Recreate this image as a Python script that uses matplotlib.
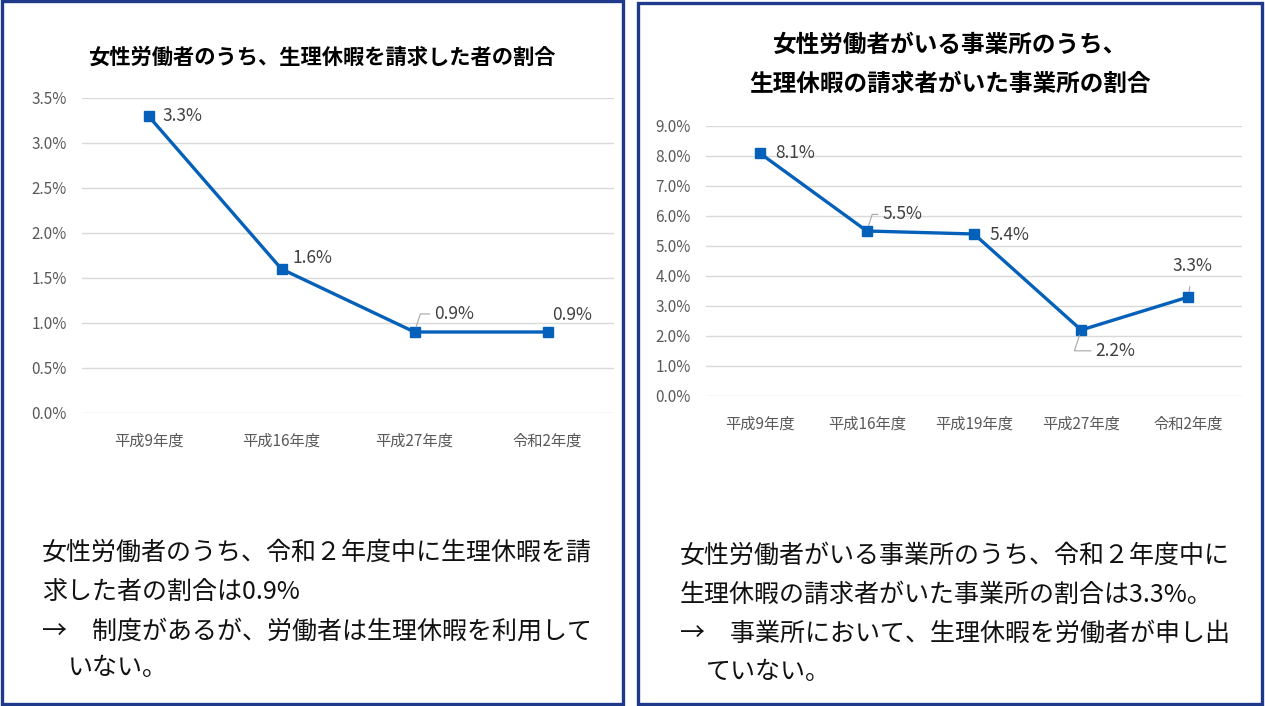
import matplotlib.pyplot as plt
from matplotlib.patches import Rectangle
from matplotlib.ticker import PercentFormatter

plt.rcParams['font.family'] = ['Noto Sans CJK JP', 'DejaVu Sans']

# data
workers_years = ['平成9年度', '平成16年度', '平成27年度', '令和2年度']
workers_rate = [3.3, 1.6, 0.9, 0.9]

office_years = ['平成9年度', '平成16年度', '平成19年度', '平成27年度', '令和2年度']
office_rate = [8.1, 5.5, 5.4, 2.2, 3.3]

W, H = 1265, 706
fig = plt.figure(figsize=(W / 100, H / 100), dpi=100)

def px(x, y):  # pixel -> figure coords
    return x / W, 1 - y / H

def box(x0, y0, x1, y1):
    fig.patches.append(Rectangle(px(x0, y1), (x1 - x0) / W, (y1 - y0) / H,
                                 transform=fig.transFigure, fill=False,
                                 edgecolor='#1f3a8a', linewidth=2.4))

def make_ax(x0, y0, x1, y1):
    ax = fig.add_axes([x0 / W, 1 - y1 / H, (x1 - x0) / W, (y1 - y0) / H])
    for s in ax.spines.values():
        s.set_visible(False)
    ax.grid(axis='y', color='#d9d9d9', linewidth=1)
    ax.set_axisbelow(True)
    ax.tick_params(length=0, labelcolor='#595959')
    ax.tick_params(axis='x', pad=14, labelsize=11)
    ax.tick_params(axis='y', pad=11, labelsize=11)
    return ax

blue = '#0460b8'
lab = dict(fontsize=12.5, color='#404040', textcoords='offset points')
lead = dict(arrowstyle='-', color='#a6a6a6', lw=0.8, shrinkA=1, shrinkB=4,
            connectionstyle='angle,angleA=0,angleB=72,rad=0', relpos=(0, 0.5))

box(2, 1, 623, 704)
box(638, 3, 1262, 704)

# left chart
ax1 = make_ax(82, 98, 614, 413)
ax1.plot(workers_years, workers_rate, color=blue, lw=2.4, marker='s', ms=6.5)
ax1.set_xlim(-0.5, len(workers_years) - 0.5)
ax1.set_ylim(0, 3.5)
ax1.set_yticks([i * 0.5 for i in range(8)])
ax1.yaxis.set_major_formatter(PercentFormatter(decimals=1))
offs1 = [(10, 0), (8, 8), (14, 13), (3, 12)]
for i, (x, v) in enumerate(zip(workers_years, workers_rate)):
    ax1.annotate(f'{v:.1f}%', (i, v), xytext=offs1[i], ha='left', va='center',
                 arrowprops=lead if i == 2 else None, **lab)
fig.text(*px(322, 57), '女性労働者のうち、生理休暇を請求した者の割合', ha='center',
         va='center', fontsize=15.3, fontweight='bold')

# right chart
ax2 = make_ax(706, 126, 1242, 396)
ax2.plot(office_years, office_rate, color=blue, lw=2.4, marker='s', ms=6.5)
ax2.set_xlim(-0.5, len(office_years) - 0.5)
ax2.set_ylim(0, 9)
ax2.set_yticks(range(10))
ax2.yaxis.set_major_formatter(PercentFormatter(decimals=1))
offs2 = [(11, 0), (11, 12), (11, -1), (10, -15), (3, 22)]
for i, (x, v) in enumerate(zip(office_years, office_rate)):
    if i == 4:
        ax2.annotate(f'{v:.1f}%', (i, v), xytext=offs2[i], ha='center', va='center',
                     arrowprops=dict(arrowstyle='-', color='#a6a6a6', lw=0.8,
                                     shrinkA=6, shrinkB=4), **lab)
    else:
        ax2.annotate(f'{v:.1f}%', (i, v), xytext=offs2[i], ha='left', va='center',
                     arrowprops=lead if i in (1, 3) else None, **lab)
fig.text(*px(950, 45), '女性労働者がいる事業所のうち、', ha='center', va='center',
         fontsize=17, fontweight='bold')
fig.text(*px(950, 84), '生理休暇の請求者がいた事業所の割合', ha='center', va='center',
         fontsize=17, fontweight='bold')

# notes
body = dict(fontsize=18, color='#111111', va='center', ha='left')
fig.text(*px(42, 553), '女性労働者のうち、令和２年度中に生理休暇を請', **body)
fig.text(*px(42, 592), '求した者の割合は0.9%', **body)
fig.text(*px(42, 632), '→　制度があるが、労働者は生理休暇を利用して', **body)
fig.text(*px(68, 668), 'いない。', **body)

fig.text(*px(680, 556), '女性労働者がいる事業所のうち、令和２年度中に', **body)
fig.text(*px(680, 595), '生理休暇の請求者がいた事業所の割合は3.3%。', **body)
fig.text(*px(680, 634), '→　事業所において、生理休暇を労働者が申し出', **body)
fig.text(*px(706, 672), 'ていない。', **body)

fig.savefig('out.png', dpi=100, facecolor='white')
